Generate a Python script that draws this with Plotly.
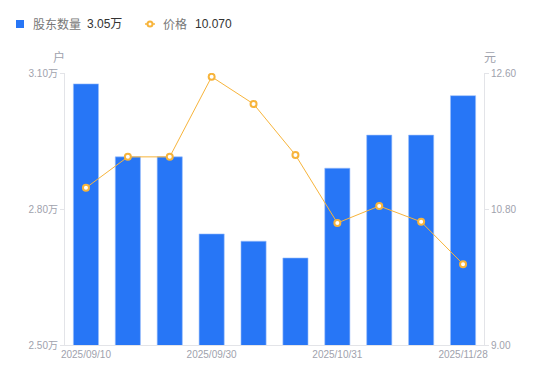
import plotly.graph_objects as go

dates = ["2025/09/10", "2025/09/15", "2025/09/19", "2025/09/30", "2025/10/10",
         "2025/10/20", "2025/10/31", "2025/11/10", "2025/11/20", "2025/11/28"]
holders_wan = [3.076, 2.915, 2.915, 2.745, 2.729, 2.692, 2.890, 2.963, 2.963, 3.050]
price = [11.08, 11.49, 11.49, 12.55, 12.19, 11.515, 10.615, 10.84, 10.63, 10.07]
tick_dates = ["2025/09/10", "2025/09/30", "2025/10/31", "2025/11/28"]
left_ticks = [2.50, 2.80, 3.10]
left_labels = ["2.50万", "2.80万", "3.10万"]
right_ticks = [9.00, 10.80, 12.60]
right_labels = ["9.00", "10.80", "12.60"]
legend_names = ["股东数量", "价格"]
legend_values = ["3.05万", "10.070"]

W, H = 550, 381
ML, MR, MT, MB = 65, 66, 73, 36
PW, PH = W - ML - MR, H - MT - MB


def px(x):
    return (x - ML) / PW


def py(y):
    return (H - MB - y) / PH


font = "Liberation Sans, Noto Sans CJK SC, sans-serif"
grey = "#a0a2ad"
bar_color = "#2776F6"
line_color = "#F7B43B"

fig = go.Figure()
fig.add_trace(go.Bar(
    x=dates, y=holders_wan, name=legend_names[0],
    marker=dict(color=bar_color, line=dict(color="#9cc0fb", width=0.6)),
    width=0.6, yaxis="y", hoverinfo="x+y"))
fig.add_trace(go.Scatter(
    x=dates, y=price, name=legend_names[1],
    mode="lines+markers", yaxis="y2",
    line=dict(color=line_color, width=1),
    marker=dict(size=6, color="white", line=dict(color=line_color, width=2))))

ann = [
    dict(text="户", x=px(59), y=py(56), xref="paper", yref="paper", showarrow=False,
         xanchor="center", yanchor="middle",
         font=dict(size=12, color=grey, family="Noto Sans CJK SC")),
    dict(text="元", x=px(490), y=py(56), xref="paper", yref="paper", showarrow=False,
         xanchor="center", yanchor="middle",
         font=dict(size=12, color=grey, family="Noto Sans CJK SC")),
    dict(text=legend_names[0], x=px(31), y=py(24), xref="paper", yref="paper", showarrow=False,
         xanchor="left", yanchor="middle", font=dict(size=12, color="#777", family="Noto Sans CJK SC")),
    dict(text=legend_values[0], x=px(85), y=py(24), xref="paper", yref="paper", showarrow=False,
         xanchor="left", yanchor="middle", font=dict(size=12, color="#333", family=font)),
    dict(text=legend_names[1], x=px(161), y=py(24), xref="paper", yref="paper", showarrow=False,
         xanchor="left", yanchor="middle", font=dict(size=12, color="#777", family="Noto Sans CJK SC")),
    dict(text=legend_values[1], x=px(193), y=py(24), xref="paper", yref="paper", showarrow=False,
         xanchor="left", yanchor="middle", font=dict(size=12, color="#333", family=font)),
]
shapes = [
    dict(type="rect", xref="paper", yref="paper", x0=px(16), x1=px(24), y0=py(20), y1=py(28),
         fillcolor=bar_color, line=dict(width=0)),
    dict(type="line", xref="paper", yref="paper", x0=px(145), x1=px(155), y0=py(24), y1=py(24),
         line=dict(color=line_color, width=1.5)),
    dict(type="circle", xref="paper", yref="paper", x0=px(147.5), x1=px(152.5), y0=py(21.5), y1=py(26.5),
         fillcolor="white", line=dict(color=line_color, width=2)),
]

fig.update_layout(
    width=W, height=H,
    margin=dict(l=ML, r=MR, t=MT, b=MB, autoexpand=False),
    paper_bgcolor="white", plot_bgcolor="white",
    font=dict(family=font, size=12, color="#333"),
    showlegend=False,
    xaxis=dict(type="category", range=[-0.5, 9.5], tickmode="array", tickvals=tick_dates,
               ticktext=tick_dates, showline=True, linecolor="#e3e4e8", linewidth=1,
               ticks="", tickfont=dict(size=10, color=grey), showgrid=False, zeroline=False),
    yaxis=dict(range=[2.5, 3.1], tickmode="array", tickvals=left_ticks, ticktext=left_labels,
               showline=True, linecolor="#e3e4e8", ticks="outside", ticklen=4,
               tickcolor="#e3e4e8", tickfont=dict(size=10, color=grey), showgrid=False,
               zeroline=False),
    yaxis2=dict(range=[9.0, 12.6], tickmode="array", tickvals=right_ticks, ticktext=right_labels,
                overlaying="y", side="right", showline=True, linecolor="#e3e4e8",
                ticks="outside", ticklen=4, tickcolor="#e3e4e8",
                tickfont=dict(size=10, color=grey), showgrid=False, zeroline=False),
    annotations=ann,
    shapes=shapes,
)

fig.write_html("out.html", config={"displayModeBar": False},
               post_script="document.body.style.margin='0';")
